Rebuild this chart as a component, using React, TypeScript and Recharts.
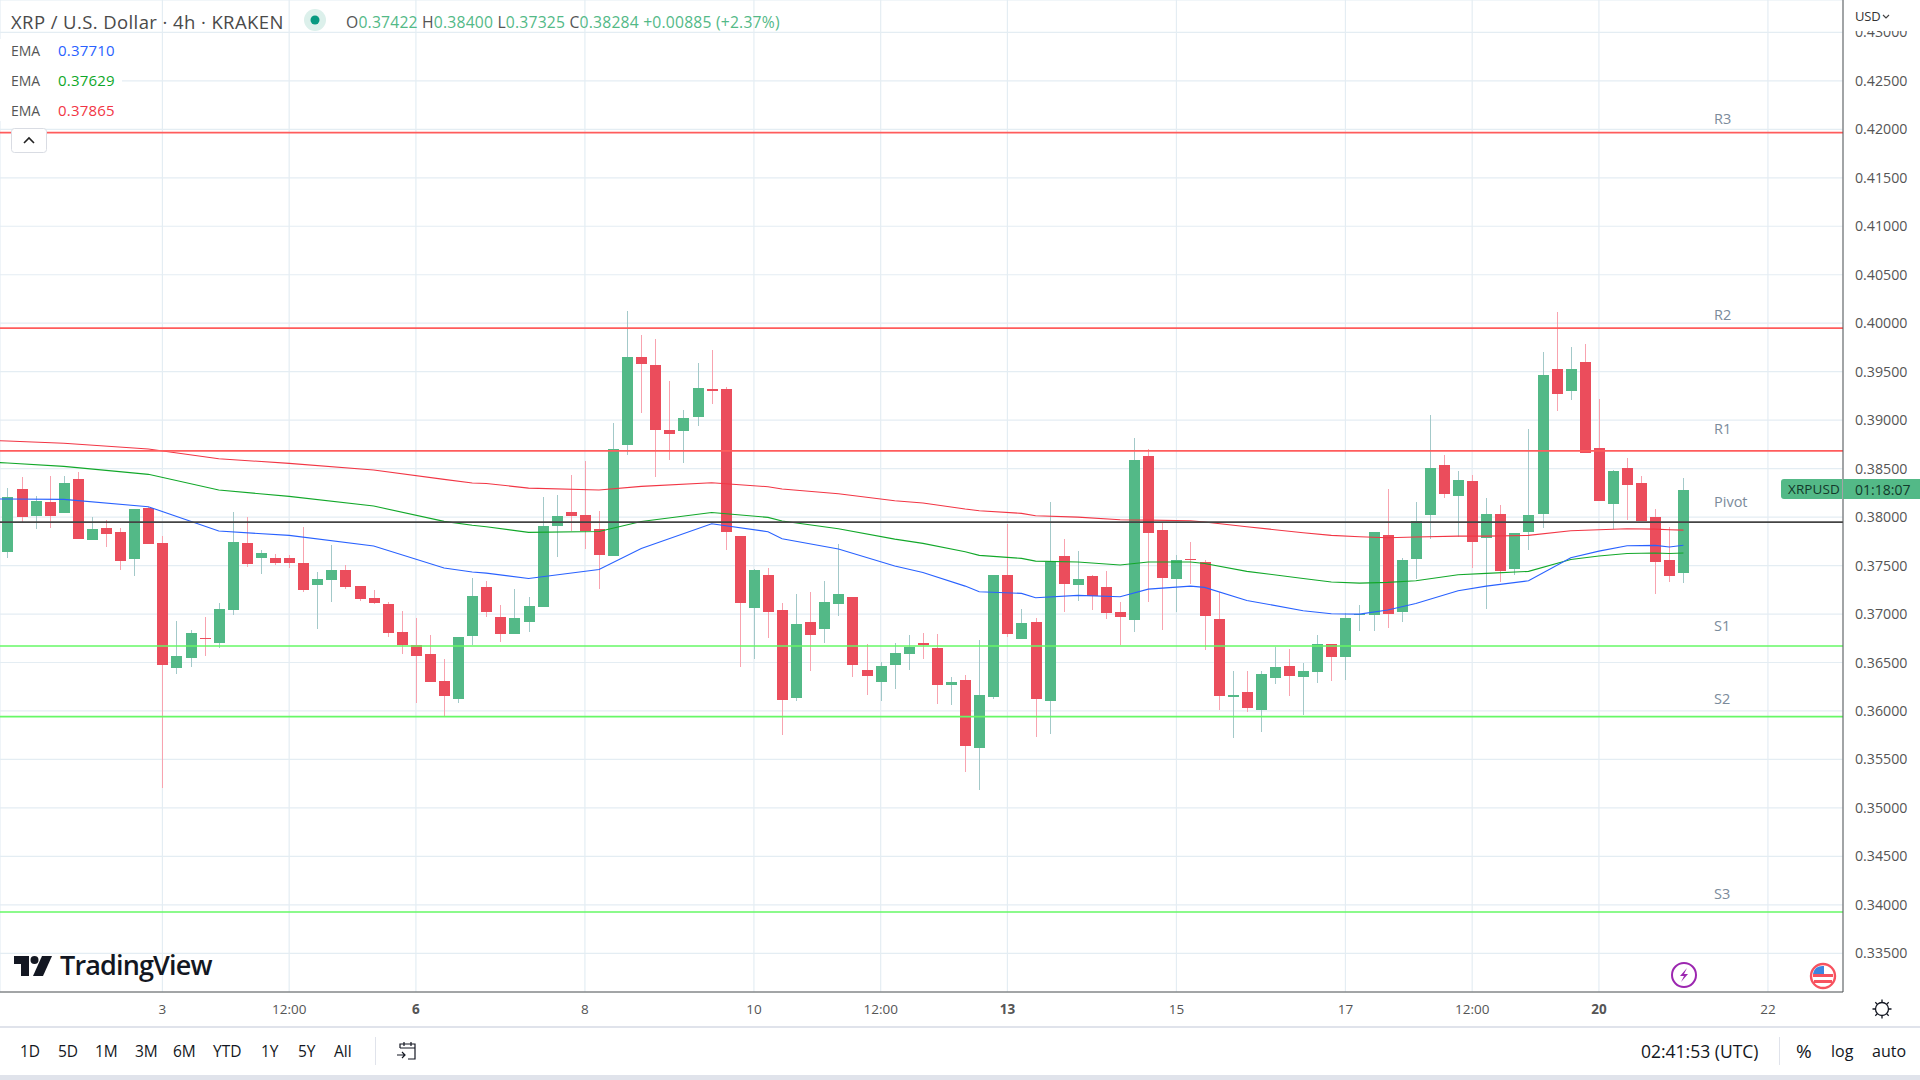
import React from "react"
import { Bar, CartesianGrid, ComposedChart, Line, ReferenceLine, XAxis, YAxis } from "recharts"

const opens = [
  0.37639, 0.38289, 0.38011, 0.38155, 0.38042, 0.38393, 0.37763, 0.37887, 0.37846, 0.37567,
  0.38093, 0.37732, 0.36443, 0.36546, 0.36752, 0.36701, 0.37041, 0.37732, 0.37578, 0.37578,
  0.37578, 0.37526, 0.37299, 0.37351, 0.37454, 0.37289, 0.37165, 0.37103, 0.36814, 0.3668,
  0.36587, 0.36309, 0.36123, 0.36773, 0.37278, 0.36968, 0.36793, 0.36917, 0.37072, 0.37907,
  0.38052, 0.38021, 0.37876, 0.37598, 0.38743, 0.39651, 0.39568, 0.38898, 0.38887, 0.39032,
  0.39321, 0.39321, 0.37804, 0.37061, 0.37402, 0.37041, 0.36133, 0.36917, 0.36845, 0.37103,
  0.37175, 0.36422, 0.36298, 0.36473, 0.36587, 0.367, 0.36649, 0.36267, 0.36319, 0.35617,
  0.36143, 0.37402, 0.36742, 0.36917, 0.36102, 0.37598, 0.37299, 0.37392, 0.37278, 0.3702,
  0.36938, 0.3863, 0.37866, 0.37361, 0.37567, 0.37536, 0.36948, 0.36143, 0.36195, 0.36009,
  0.36339, 0.36463, 0.36349, 0.36401, 0.3669, 0.36556, 0.36993, 0.36989, 0.37815, 0.3702,
  0.37567, 0.38021, 0.38537, 0.38217, 0.38372, 0.37784, 0.38031, 0.37464, 0.37845, 0.38031,
  0.39527, 0.393, 0.39599, 0.38712, 0.38134, 0.38506, 0.38351, 0.38, 0.37557, 0.37422,
]
const highs = [
  0.38303, 0.38413, 0.38217, 0.38424, 0.38424, 0.38465, 0.38001, 0.3797, 0.37887, 0.38083,
  0.38104, 0.37805, 0.36928, 0.36835, 0.36969, 0.37113, 0.38052, 0.38001, 0.3766, 0.37619,
  0.37609, 0.37897, 0.37433, 0.37712, 0.37505, 0.37289, 0.37247, 0.37124, 0.37031, 0.36959,
  0.36783, 0.36536, 0.36763, 0.37371, 0.3734, 0.37092, 0.37257, 0.37175, 0.38207, 0.38227,
  0.38434, 0.38578, 0.38062, 0.3897, 0.40126, 0.39878, 0.39837, 0.39403, 0.39104, 0.39589,
  0.39723, 0.39341, 0.37804, 0.37464, 0.37474, 0.37113, 0.37206, 0.37226, 0.3734, 0.37722,
  0.37175, 0.3669, 0.36504, 0.367, 0.36783, 0.36803, 0.36793, 0.36349, 0.3637, 0.36731,
  0.37402, 0.37928, 0.37051, 0.36958, 0.38155, 0.37773, 0.37649, 0.37402, 0.37443, 0.37123,
  0.38815, 0.38702, 0.37949, 0.37608, 0.37742, 0.37557, 0.37226, 0.36411, 0.36411, 0.36411,
  0.36659, 0.36638, 0.36494, 0.36783, 0.3669, 0.3701, 0.37092, 0.37845, 0.38289, 0.37577,
  0.38155, 0.39053, 0.3864, 0.38475, 0.38434, 0.38196, 0.38124, 0.37835, 0.38908, 0.39703,
  0.40115, 0.39754, 0.39785, 0.39218, 0.38485, 0.38609, 0.38423, 0.38083, 0.37897, 0.384,
]
const lows = [
  0.37578, 0.37939, 0.37877, 0.37887, 0.38042, 0.37774, 0.37763, 0.37691, 0.37454, 0.37392,
  0.37722, 0.35205, 0.36381, 0.36453, 0.36566, 0.36649, 0.36989, 0.37485, 0.37413, 0.37505,
  0.37474, 0.37227, 0.36845, 0.37124, 0.37258, 0.37134, 0.37103, 0.36763, 0.36587, 0.36082,
  0.36298, 0.35937, 0.36082, 0.3668, 0.36968, 0.36711, 0.36793, 0.36814, 0.37072, 0.37588,
  0.37856, 0.3767, 0.37257, 0.37598, 0.3864, 0.39073, 0.38413, 0.38588, 0.38557, 0.38939,
  0.39166, 0.3766, 0.36453, 0.36535, 0.36752, 0.35751, 0.36102, 0.36411, 0.367, 0.36979,
  0.36349, 0.36164, 0.36102, 0.36226, 0.36422, 0.36535, 0.36071, 0.36061, 0.35369, 0.35184,
  0.36123, 0.36762, 0.36742, 0.3573, 0.35761, 0.3702, 0.37134, 0.37041, 0.36948, 0.3668,
  0.36814, 0.37123, 0.36834, 0.3702, 0.37309, 0.36628, 0.36009, 0.3572, 0.35988, 0.35782,
  0.36277, 0.36153, 0.35957, 0.36288, 0.36308, 0.36319, 0.36824, 0.36824, 0.36855, 0.36917,
  0.37361, 0.37773, 0.38196, 0.37794, 0.37474, 0.37051, 0.3733, 0.37402, 0.3766, 0.37887,
  0.39094, 0.39207, 0.3866, 0.38165, 0.37873, 0.37969, 0.37955, 0.37206, 0.3733, 0.37325,
]
const closes = [
  0.38207, 0.38001, 0.38166, 0.38011, 0.38351, 0.37774, 0.37877, 0.37825, 0.37547, 0.38083,
  0.37722, 0.36474, 0.36566, 0.36804, 0.36742, 0.37051, 0.37743, 0.37516, 0.37629, 0.37526,
  0.37526, 0.37247, 0.37361, 0.37454, 0.37278, 0.37155, 0.37113, 0.36804, 0.3668, 0.36566,
  0.36298, 0.36154, 0.36763, 0.37186, 0.3702, 0.36793, 0.36958, 0.37082, 0.37907, 0.38011,
  0.38011, 0.37856, 0.37608, 0.38702, 0.39651, 0.39579, 0.38898, 0.38857, 0.39022, 0.39331,
  0.393, 0.37845, 0.37113, 0.37453, 0.3702, 0.36112, 0.36896, 0.36783, 0.37123, 0.37206,
  0.36473, 0.3636, 0.36463, 0.36597, 0.36659, 0.3668, 0.36267, 0.36298, 0.35638, 0.36164,
  0.37402, 0.36793, 0.36907, 0.36123, 0.37536, 0.37309, 0.37361, 0.37185, 0.3701, 0.36968,
  0.38588, 0.37835, 0.37371, 0.37557, 0.37557, 0.36979, 0.36153, 0.36164, 0.3603, 0.3638,
  0.36453, 0.3636, 0.36411, 0.3669, 0.36556, 0.36958, 0.37003, 0.37845, 0.36999, 0.37557,
  0.37959, 0.38506, 0.38237, 0.38382, 0.37742, 0.38031, 0.37443, 0.37835, 0.38021, 0.39465,
  0.39269, 0.39527, 0.3866, 0.38165, 0.38475, 0.3833, 0.37955, 0.37536, 0.37392, 0.38284,
]

// the moving averages are read at the bars where the lines bend
// bar -1 sits just off the left edge, the lines run in from there
const emaBars = [
  -1, 0, 4, 10, 15, 20, 26, 31, 33, 34, 37, 42, 45, 50, 54, 55, 59, 63, 65, 68, 69, 72,
  73, 76, 79, 81, 84, 85, 88, 92, 94, 96, 98, 100, 103, 105, 108, 111, 113, 115, 117, 118, 119,
]
const emaBlue = [
  0.38187, 0.38186, 0.38183, 0.38107, 0.37856, 0.37811, 0.37701, 0.37474, 0.37433, 0.37422, 0.37367, 0.3746,
  0.37677, 0.37931, 0.37849, 0.37777, 0.3767, 0.37495, 0.37429, 0.37288, 0.3723, 0.37213,
  0.37168, 0.37192, 0.37178, 0.37257, 0.37288, 0.37275, 0.3714, 0.37034, 0.37003, 0.36999,
  0.37041, 0.37109, 0.3724, 0.37288, 0.37343, 0.37581, 0.37649, 0.37704, 0.37708, 0.37691, 0.3771,
]
const emaGreen = [
  0.38565, 0.38558, 0.38523, 0.38441, 0.38279, 0.38214, 0.38114, 0.37956, 0.37915, 0.379, 0.37842, 0.37852,
  0.37955, 0.38048, 0.37997, 0.37959, 0.3788, 0.37773, 0.37729, 0.37643, 0.37605, 0.37574,
  0.37546, 0.37536, 0.37505, 0.37536, 0.37536, 0.37522, 0.3744, 0.37367, 0.3733, 0.37319,
  0.37326, 0.37343, 0.37405, 0.37419, 0.3744, 0.37563, 0.37598, 0.37625, 0.37629, 0.37625, 0.37629,
]
const emaRed = [
  0.3879, 0.38785, 0.38761, 0.38702, 0.38602, 0.38554, 0.38485, 0.38389, 0.38351, 0.38347, 0.38299, 0.38279,
  0.38317, 0.38354, 0.38313, 0.38289, 0.38241, 0.38169, 0.38145, 0.38083, 0.38066, 0.38038,
  0.38014, 0.38, 0.37973, 0.37969, 0.37962, 0.37949, 0.379, 0.37839, 0.37811, 0.37797,
  0.37787, 0.37794, 0.37804, 0.37804, 0.37811, 0.37859, 0.37869, 0.3788, 0.37876, 0.37869, 0.37865,
]

const pivotNames = ["R3", "R2", "R1", "Pivot", "S1", "S2", "S3"]
const pivotValues = [0.41965, 0.3995, 0.38682, 0.37949, 0.3667, 0.35941, 0.33926]

const priceTicks = [
  0.335, 0.34, 0.345, 0.35, 0.355, 0.36, 0.365, 0.37, 0.375, 0.38, 0.385, 0.39, 0.395, 0.4, 0.405,
  0.41, 0.415, 0.42, 0.425, 0.43,
]
const timeTicks = [11, 20, 29, 41, 53, 62, 71, 83, 95, 104, 113, 125]
const timeLabels = ["3", "12:00", "6", "8", "10", "12:00", "13", "15", "17", "12:00", "20", "22"]
const boldLabels = ["6", "13", "20"]

const ranges = ["1D", "5D", "1M", "3M", "6M", "YTD", "1Y", "5Y", "All"]

const rows = [-1, ...opens.keys()].map((i) => {
  const k = emaBars.indexOf(i)
  return {
    bar: i,
    open: i < 0 ? null : opens[i],
    close: i < 0 ? null : closes[i],
    range: i < 0 ? null : [lows[i], highs[i]],
    blue: k >= 0 ? emaBlue[k] : null,
    green: k >= 0 ? emaGreen[k] : null,
    red: k >= 0 ? emaRed[k] : null,
  }
})

const UI_FONT = "'Open Sans', sans-serif"
const UP = "#53b987"
const DOWN = "#eb4d5c"

function Candle(props: any) {
  const { x, y, width, height, payload } = props
  if (!payload.range) return null
  const high = payload.range[1]
  const low = payload.range[0]
  const perPrice = height / (high - low)
  const up = payload.close >= payload.open
  const top = y + (high - Math.max(payload.open, payload.close)) * perPrice
  const bottom = y + (high - Math.min(payload.open, payload.close)) * perPrice
  const mid = Math.floor(x + width / 2)
  return (
    <g shapeRendering="crispEdges">
      <rect x={mid} y={y} width={1} height={height} fill={up ? "#a3c9c9" : "#f8a3af"} />
      <rect x={mid - 5} y={top} width={11} height={Math.max(bottom - top, 1)} fill={up ? UP : DOWN} />
    </g>
  )
}

function TimeTick(props: any) {
  const { x, y, payload } = props
  const text = timeLabels[timeTicks.indexOf(payload.value)]
  return (
    <text
      x={x}
      y={y}
      dy={14}
      textAnchor="middle"
      fontFamily={UI_FONT}
      fontSize={13.5}
      fill="#555"
      fontWeight={boldLabels.includes(text) ? 700 : 400}
    >
      {text}
    </text>
  )
}

function pivotLabel(name: string) {
  const gaps: Record<string, number> = { R3: 14, R2: 13, R1: 22, Pivot: 20, S1: 20, S2: 18, S3: 18 }
  return (props: any) => (
    <text
      x={props.viewBox.x + 1714}
      y={props.viewBox.y - gaps[name]}
      dy={5}
      fontFamily={UI_FONT}
      fontSize={14.5}
      fill="#7b8b9b"
    >
      {name}
    </text>
  )
}

function pivotColor(name: string) {
  if (name === "Pivot") return "#444"
  return name[0] === "R" ? "#ff5c5c" : "#66f866"
}

function T({ x, y, size = 16, color = "#555", weight = 400, spacing = 0, bg, children }: any) {
  return (
    <div
      style={{
        position: "absolute",
        left: x,
        top: y,
        transform: "translateY(-50%)",
        fontFamily: UI_FONT,
        fontSize: size,
        color,
        fontWeight: weight,
        letterSpacing: spacing,
        whiteSpace: "nowrap",
        background: bg,
      }}
    >
      {children}
    </div>
  )
}

function Box({ x, y, w, h, bg, style }: any) {
  return <div style={{ position: "absolute", left: x, top: y, width: w, height: h, background: bg, ...style }} />
}

function Overlay() {
  const rangeX = [20, 58, 95, 135, 173, 213, 261, 298, 334]
  return (
    <>
      <Box x={1844} y={0} w={76} h={31} bg="#fff" />
      <T x={1855} y={16} size={13} spacing={-0.2} color="#333">USD</T>
      <svg style={{ position: "absolute", left: 1882, top: 14 }} width={8} height={5}>
        <path d="M1 1 L4 4 L7 1" fill="none" stroke="#444" strokeWidth={1.2} />
      </svg>

      <T x={11} y={21} size={18.5} spacing={0.4} color="#4a4a4a">XRP / U.S. Dollar · 4h · KRAKEN</T>
      <svg style={{ position: "absolute", left: 304, top: 9 }} width={22} height={22}>
        <circle cx={11} cy={11} r={11} fill="#dcf0eb" />
        <circle cx={11} cy={11} r={4.5} fill="#089981" />
      </svg>
      <T x={346} y={22} size={15.7} spacing={0.2} color={UP}>
        <span style={{ color: "#555" }}>O</span>0.37422 <span style={{ color: "#555" }}>H</span>0.38400{" "}
        <span style={{ color: "#555" }}>L</span>0.37325 <span style={{ color: "#555" }}>C</span>0.38284 +0.00885 (+2.37%)
      </T>

      <Box x={0} y={39} w={122} h={82} bg="#fff" />
      <T x={11} y={49.8} size={14} color="#555">EMA</T>
      <T x={58} y={49.8} size={15} spacing={0.2} color="#2962ff">0.37710</T>
      <T x={11} y={79.8} size={14} color="#555">EMA</T>
      <T x={58} y={79.8} size={15} spacing={0.2} color="#0fa82a">0.37629</T>
      <T x={11} y={109.8} size={14} color="#555">EMA</T>
      <T x={58} y={109.8} size={15} spacing={0.2} color="#f23645">0.37865</T>
      <svg style={{ position: "absolute", left: 11, top: 128 }} width={36} height={25}>
        <rect x={0.5} y={0.5} width={35} height={24} rx={3} fill="#fff" stroke="#d9dce3" />
        <path d="M13 15 L18 10 L23 15" fill="none" stroke="#222" strokeWidth={1.6} />
      </svg>

      <Box x={1781} y={479} w={61} h={20} bg={UP} style={{ borderRadius: "3px 0 0 3px" }} />
      <T x={1788} y={489} size={13.5} spacing={0.1} color="#143a2b">XRPUSD</T>
      <Box x={1843} y={479} w={77} h={20} bg={UP} />
      <T x={1855} y={489} size={14} color="#143a2b">01:18:07</T>

      {/* TradingView mark */}
      <svg style={{ position: "absolute", left: 14, top: 955 }} width={40} height={22}>
        <path d="M0 1 H15 V21 H7 V9 H0 Z" fill="#131722" />
        <circle cx={20.5} cy={5} r={4} fill="#131722" />
        <path d="M28 1 H38 L29 21 H19 Z" fill="#131722" />
      </svg>
      <T x={60} y={964} size={27} weight={600} spacing={-0.85} color="#131722">TradingView</T>

      <svg style={{ position: "absolute", left: 1670, top: 961 }} width={28} height={28}>
        <circle cx={14} cy={14} r={12} fill="#fff" stroke="#9c27b0" strokeWidth={2} />
        <path d="M17 7 L10 15 H14 L11 21 L18 13 H14 Z" fill="#9c27b0" />
      </svg>
      <svg style={{ position: "absolute", left: 1809, top: 962 }} width={28} height={28}>
        <circle cx={14} cy={14} r={12} fill="#fff" stroke="#f7525f" strokeWidth={2.4} />
        <path d="M4 12 H24 V15 H4 Z M5 18 H23 V21 H5 Z" fill="#f7525f" />
        <path d="M7 6 A11 11 0 0 1 15 4 V12 H4 A11 11 0 0 1 7 6 Z" fill="#3d85e0" />
      </svg>
      <svg style={{ position: "absolute", left: 1870, top: 997 }} width={24} height={24} viewBox="0 0 24 24">
        <circle cx={12} cy={12} r={6.5} fill="none" stroke="#131722" strokeWidth={1.3} />
        <path
          d="M12 2.5 V5.5 M12 18.5 V21.5 M2.5 12 H5.5 M18.5 12 H21.5 M5.3 5.3 L7.4 7.4 M16.6 16.6 L18.7 18.7 M5.3 18.7 L7.4 16.6 M16.6 7.4 L18.7 5.3"
          stroke="#131722"
          strokeWidth={1.3}
        />
      </svg>

      <Box x={0} y={1026} w={1920} h={2} bg="#e0e3eb" />
      <Box x={0} y={1075} w={1920} h={5} bg="#e0e3eb" />
      {ranges.map((r, i) => (
        <T key={r} x={rangeX[i]} y={1051} size={15.5} color="#131722">{r}</T>
      ))}
      <Box x={375} y={1037} w={1} h={28} bg="#e0e3eb" />
      <svg style={{ position: "absolute", left: 396, top: 1041 }} width={22} height={20}>
        <path
          d="M4 7 V3 H19 V18 H12 M4 7 H19 M8 1 V5 M15 1 V5 M1 14 H9 M6 11 L9 14 L6 17"
          fill="none"
          stroke="#131722"
          strokeWidth={1.2}
        />
      </svg>
      <T x={1641} y={1051} size={17.5} color="#131722">02:41:53 (UTC)</T>
      <Box x={1779} y={1037} w={1} h={28} bg="#e0e3eb" />
      <T x={1796} y={1051} size={19} color="#131722">%</T>
      <T x={1831} y={1051} size={16} color="#131722">log</T>
      <T x={1872} y={1051} size={16} color="#131722">auto</T>
    </>
  )
}

export default function App() {
  return (
    <div style={{ position: "absolute", left: 0, top: 0, width: 1920, height: 1080, background: "#fff", overflow: "hidden" }}>
      <ComposedChart
        width={1920}
        height={1026}
        data={rows}
        margin={{ top: 0, right: 0, bottom: 0, left: 0 }}
      >
        <CartesianGrid stroke="#e4edf3" strokeWidth={1.2} />
        <XAxis
          dataKey="bar"
          type="number"
          domain={[-0.5326, 130.33]}
          ticks={timeTicks}
          interval={0}
          height={34}
          stroke="#555"
          tickLine={false}
          tick={<TimeTick />}
          allowDataOverflow
        />
        <YAxis
          orientation="right"
          domain={[0.33101, 0.43334]}
          ticks={priceTicks}
          interval={0}
          width={77}
          stroke="#555"
          tickLine={false}
          tickSize={0}
          tickMargin={12}
          tickFormatter={(v: number) => v.toFixed(5)}
          tick={{ fontFamily: UI_FONT, fontSize: 14.2, fill: "#555" }}
          allowDataOverflow
        />
        <Bar dataKey="range" barSize={11} shape={<Candle />} isAnimationActive={false} />
        <Line dataKey="red" stroke="#f23645" strokeWidth={1.1} dot={false} activeDot={false} connectNulls isAnimationActive={false} />
        <Line dataKey="green" stroke="#12a82a" strokeWidth={1.1} dot={false} activeDot={false} connectNulls isAnimationActive={false} />
        <Line dataKey="blue" stroke="#2962ff" strokeWidth={1.1} dot={false} activeDot={false} connectNulls isAnimationActive={false} />
        {pivotNames.map((name, i) => (
          <ReferenceLine
            key={name}
            y={pivotValues[i]}
            stroke={pivotColor(name)}
            strokeWidth={1.7}
            label={pivotLabel(name)}
          />
        ))}
      </ComposedChart>
      <Overlay />
    </div>
  )
}
